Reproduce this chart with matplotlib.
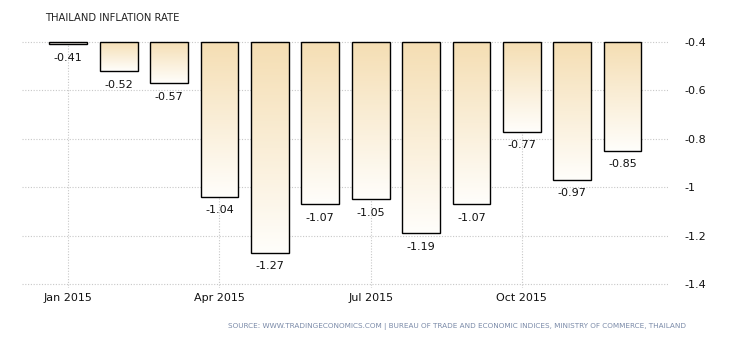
import numpy as np
import matplotlib
matplotlib.use("Agg")
import matplotlib.pyplot as plt
from matplotlib.colors import LinearSegmentedColormap
from matplotlib.patches import Rectangle

months = ["Jan 2015", "Feb 2015", "Mar 2015", "Apr 2015", "May 2015", "Jun 2015",
          "Jul 2015", "Aug 2015", "Sep 2015", "Oct 2015", "Nov 2015", "Dec 2015"]
inflation = [-0.41, -0.52, -0.57, -1.04, -1.27, -1.07,
             -1.05, -1.19, -1.07, -0.77, -0.97, -0.85]
tick_months = ["Jan 2015", "Apr 2015", "Jul 2015", "Oct 2015"]
y_ticks = [-0.4, -0.6, -0.8, -1.0, -1.2, -1.4]

base = -0.4
width = 0.75

fig = plt.figure(figsize=(7.3, 3.4), dpi=100)
ax = fig.add_axes([0.030, 0.154, 0.885, 0.726])

# bars hang from the -0.4 line, shaded wheat at the top fading to white
shade = LinearSegmentedColormap.from_list("shade", ["#fffefb", "#f5deb3"])
grad = np.linspace(0, 1, 256).reshape(-1, 1)

x = np.arange(len(months))
for xi, v in zip(x, inflation):
    left = xi - width / 2
    im = ax.imshow(grad, cmap=shade, aspect="auto", origin="lower",
                   extent=[left, left + width, v, base], zorder=2)
    rect = Rectangle((left, v), width, base - v, facecolor="none",
                     edgecolor="black", linewidth=1.0, zorder=3)
    ax.add_patch(rect)
    im.set_clip_path(rect)
    ax.text(xi, v - 0.035, "%g" % v, ha="center", va="top", fontsize=8,
            color="#111111", zorder=4)

ax.set_xlim(-0.92, 11.9)
ax.set_ylim(-1.415, -0.395)

ax.set_xticks([months.index(m) for m in tick_months])
ax.set_xticklabels(tick_months, fontsize=8, color="#111111")
ax.set_yticks(y_ticks)
ax.set_yticklabels(["%g" % t for t in y_ticks], fontsize=8, color="#111111")
ax.yaxis.tick_right()
ax.tick_params(axis="both", length=0)
ax.tick_params(axis="y", pad=12)
ax.tick_params(axis="x", pad=4)

ax.grid(True, color="#c8c8c8", linestyle=(0, (1, 1.5)), linewidth=0.8, zorder=0)
ax.set_axisbelow(True)
for s in ax.spines.values():
    s.set_visible(False)

fig.text(45 / 730, 1 - 18 / 340, "THAILAND INFLATION RATE", fontsize=7.2,
         color="#222222", va="center", ha="left")
fig.text(686 / 730, 1 - 326 / 340,
         "SOURCE: WWW.TRADINGECONOMICS.COM | BUREAU OF TRADE AND ECONOMIC INDICES, "
         "MINISTRY OF COMMERCE, THAILAND",
         fontsize=5.2, color="#7a8aa8", va="center", ha="right")

fig.savefig("out.png", dpi=100)
